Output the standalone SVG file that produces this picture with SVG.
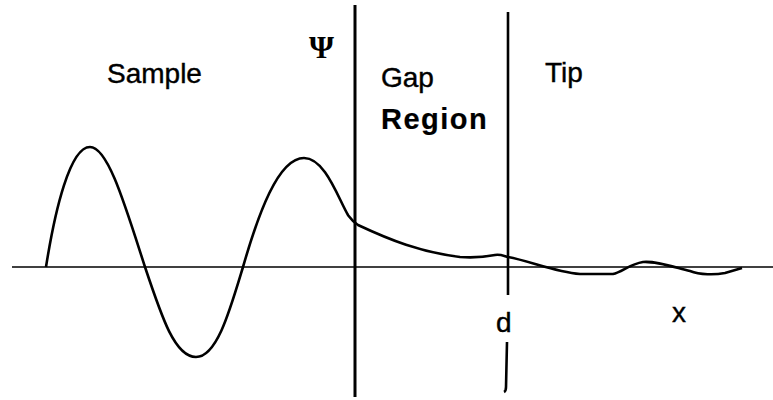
<svg xmlns="http://www.w3.org/2000/svg" width="773" height="400" viewBox="0 0 773 400">
<style>
.lbl{font-family:"Liberation Sans",Arial,sans-serif;font-size:28px;fill:#000;stroke:#000;stroke-width:0.4}
.bold{font-weight:bold;letter-spacing:1.5px;font-size:29px;stroke-width:0.2}
.ax{stroke:#000;fill:none}
</style>
<rect width="773" height="400" fill="#fff"/>
<g id="axes">
<line class="ax" x1="12" y1="267" x2="773" y2="267" stroke-width="1.6"/>
<line class="ax" x1="355" y1="5" x2="355" y2="397" stroke-width="3"/>
<line class="ax" x1="508" y1="12" x2="508" y2="295" stroke-width="2.6"/>
<path class="ax" d="M507,342 L506,387 Q506,391 504,392" stroke-width="2.6"/>
</g>
<g id="wave">
<path class="ax" stroke-width="2.6" stroke-linejoin="round" d="M46,267 C55,210 70,147 90,147 C108,147 125,205 145,267 C162,318 175,357 196,357 C217,357 230,310 243,267 C258,215 278,158 304,158 C325,158 338,198 348,215 C351,219 353,222 358,225 C390,240 420,252 460,257 C475,258 490,256 495,255 C500,254 504,256 508,257 C530,261 555,272 580,274 L613,274 C622,272 630,264 643,262 C655,261 670,266 690,271 C700,275 715,275 725,273 L742,268"/>
</g>
<g id="labels">
<text class="lbl" x="107" y="83">Sample</text>
<text x="321.5" y="58" text-anchor="middle" font-family="Liberation Serif,serif" font-weight="bold" font-size="32">Ψ</text>
<text class="lbl" x="381" y="87">Gap</text>
<text class="lbl bold" x="381" y="129">Region</text>
<text class="lbl" x="545" y="82">Tip</text>
<text class="lbl" x="496" y="332">d</text>
<text class="lbl" x="672" y="322">x</text>
</g>
</svg>
